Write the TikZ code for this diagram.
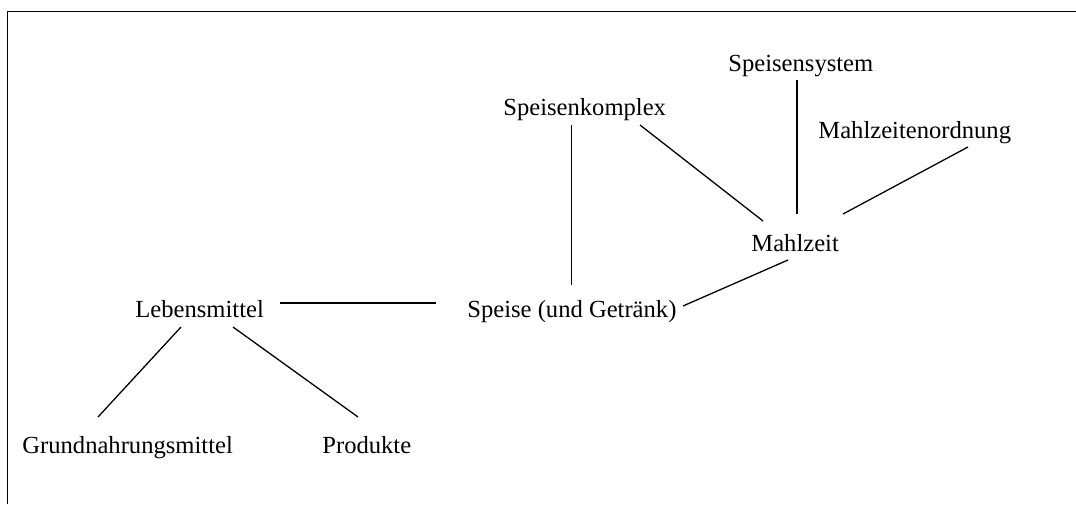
\documentclass[tikz,border=0pt]{standalone}
\usepackage{fontspec}
\setmainfont{Liberation Serif}
\begin{document}
\begin{tikzpicture}[x=0.5pt,y=-0.5pt,
  lbl/.style={anchor=base west,inner sep=0pt,font=\fontsize{12.3}{14}\selectfont},
  conn/.style={line width=0.65pt},
  frame/.style={line width=0.8pt}]
\useasboundingbox (0,0) rectangle (1076,504);
\coordinate (fa) at (7.5,504);
\coordinate (fb) at (7.5,11.5);
\coordinate (fc) at (1076,11.5);
\draw[frame] (fa) -- (fb) -- (fc);
% labels
\node[lbl] (sys) at (728,71) {Speisensystem};
\node[lbl] (kom) at (503,115) {Speisenkomplex};
\node[lbl] (ord) at (818,138) {Mahlzeitenordnung};
\node[lbl] (mz) at (751,251) {Mahlzeit};
\node[lbl] (sp) at (467,317) {Speise (und Getränk)};
\node[lbl] (lm) at (135,317) {Lebensmittel};
\node[lbl] (gr) at (22,453) {Grundnahrungsmittel};
\node[lbl] (pr) at (322,453) {Produkte};
% connector end points
\coordinate (kom-a) at (571.5,125);
\coordinate (sp-a) at (571.5,285);
\coordinate (kom-b) at (640,125);
\coordinate (mz-a) at (763,221);
\coordinate (sys-a) at (797,80);
\coordinate (mz-b) at (797,214);
\coordinate (ord-a) at (968,147);
\coordinate (mz-c) at (843,214);
\coordinate (mz-d) at (788,260);
\coordinate (sp-b) at (683,306);
\coordinate (lm-a) at (280,303);
\coordinate (sp-c) at (436,303);
\coordinate (lm-b) at (181,327);
\coordinate (gr-a) at (98,417);
\coordinate (lm-c) at (233,327);
\coordinate (pr-a) at (358,417);
\draw[conn] (kom-a) -- (sp-a);
\draw[conn] (kom-b) -- (mz-a);
\draw[conn] (sys-a) -- (mz-b);
\draw[conn] (ord-a) -- (mz-c);
\draw[conn] (mz-d) -- (sp-b);
\draw[conn] (lm-a) -- (sp-c);
\draw[conn] (lm-b) -- (gr-a);
\draw[conn] (lm-c) -- (pr-a);
\end{tikzpicture}
\end{document}
